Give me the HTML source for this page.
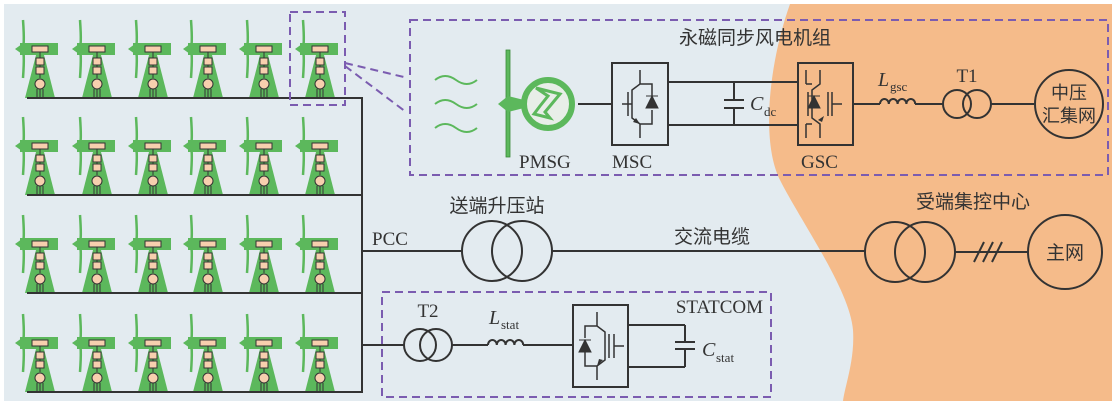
<!DOCTYPE html>
<html><head><meta charset="utf-8"><style>
html,body{margin:0;padding:0;background:#fff;}
svg{display:block;}
text{font-family:"Liberation Serif","Noto Serif CJK SC",serif;fill:#333;}
.cn{font-family:"Liberation Sans","Noto Sans CJK SC",sans-serif;}
</style></head><body>
<svg width="1116" height="405" viewBox="0 0 1116 405" xmlns="http://www.w3.org/2000/svg">
<defs>
<g id="tb">
  <path d="M-17,-78 Q-15,-50 -18,-49 Q-15,-48 -17,-20" stroke="#5cb85c" stroke-width="2.5" fill="none"/>
  <path d="M-25,-49 L-18,-54 L-18,-44 Z" fill="#5cb85c"/>
  <rect x="-20" y="-55" width="38" height="12" fill="#5cb85c"/>
  <path d="M-4,-43 L4,-43 L15,0 L-15,0 Z" fill="#5cb85c"/>
  <rect x="-8" y="-52" width="16" height="6" fill="#f7cfae" stroke="#333" stroke-width="1"/>
  <rect x="-4" y="-40" width="8" height="7" fill="#f7cfae" stroke="#333" stroke-width="1"/>
  <rect x="-4" y="-31" width="8" height="7" fill="#f7cfae" stroke="#333" stroke-width="1"/>
  <line x1="0" y1="-46" x2="0" y2="-40" stroke="#333"/>
  <line x1="0" y1="-33" x2="0" y2="-31" stroke="#333"/>
  <line x1="0" y1="-24" x2="0" y2="-20" stroke="#333"/>
  <circle cx="0" cy="-14" r="5" fill="#f7cfae" stroke="#333"/>
  <line x1="-3" y1="-9" x2="-3" y2="0" stroke="#333"/><line x1="0" y1="-9" x2="0" y2="0" stroke="#333"/><line x1="3" y1="-9" x2="3" y2="0" stroke="#333"/>
</g>
<g id="tr6">
  <use href="#tb" x="40"/><use href="#tb" x="97"/><use href="#tb" x="153"/>
  <use href="#tb" x="208"/><use href="#tb" x="264"/><use href="#tb" x="320"/>
  <line x1="27" y1="0" x2="362" y2="0" stroke="#333" stroke-width="2"/>
</g>
</defs>
<rect x="4" y="4" width="1108" height="397" fill="#e3ebf0"/>
<path d="M790,4 C770,60 760,140 780,180 C800,220 850,290 853,330 C855,360 845,385 843,401 L1112,401 L1112,4 Z" fill="#f5bb8a"/>

<use href="#tr6" y="98"/><use href="#tr6" y="195"/><use href="#tr6" y="293"/><use href="#tr6" y="392"/>
<line x1="362" y1="97" x2="362" y2="393" stroke="#333" stroke-width="2"/>

<g fill="none" stroke="#7b5cb0" stroke-width="2" stroke-dasharray="8,5">
<rect x="290" y="12" width="55" height="93"/>
<rect x="410" y="20" width="698" height="155"/>
<rect x="382" y="292" width="389" height="105"/>
</g>
<line x1="345" y1="63" x2="408" y2="78" stroke="#7b5cb0" stroke-width="2" stroke-dasharray="8,5"/>
<line x1="345" y1="66" x2="406" y2="112" stroke="#7b5cb0" stroke-width="2" stroke-dasharray="8,5"/>

<text x="755" y="44" font-size="19" text-anchor="middle" class="cn">永磁同步风电机组</text>
<g stroke="#5cb85c" stroke-width="2" fill="none">
<path d="M435,80 q10,-8 21,0 t21,0"/><path d="M435,104 q10,-8 21,0 t21,0"/><path d="M435,128 q10,-8 21,0 t21,0"/>
</g>
<rect x="506" y="50" width="4" height="107" fill="#5cb85c" stroke="#3a8a3a" stroke-width="0.8"/>
<path d="M498,104 L508,96 L524,100 L524,108 L508,112 Z" fill="#5cb85c"/>
<circle cx="548" cy="104" r="24" fill="#e8eee8" stroke="#5cb85c" stroke-width="6"/>
<path d="M536,88 L560,94 L555,100 L545,112 L550,118 L534,114 L540,106 L548,96 Z" fill="none" stroke="#5cb85c" stroke-width="3"/>
<g stroke="#333" stroke-width="2" fill="none">
<line x1="578" y1="104" x2="612" y2="104"/>
<rect x="612" y="63" width="56" height="82"/>
<line x1="668" y1="82" x2="798" y2="82"/><line x1="668" y1="125" x2="798" y2="125"/>
<line x1="734" y1="82" x2="734" y2="100"/><line x1="734" y1="108" x2="734" y2="125"/>
<line x1="724" y1="100" x2="744" y2="100"/><line x1="724" y1="108" x2="744" y2="108"/>
<rect x="798" y="63" width="55" height="82"/>
<line x1="853" y1="104" x2="880" y2="104"/>
<path d="M880,104 a4.4,5 0 0 1 8.8,0 a4.4,5 0 0 1 8.8,0 a4.4,5 0 0 1 8.8,0 a4.4,5 0 0 1 8.8,0"/>
<line x1="915" y1="104" x2="943" y2="104"/>
<circle cx="957" cy="104" r="14"/><circle cx="977" cy="104" r="14"/>
<line x1="991" y1="104" x2="1034" y2="104"/>
<circle cx="1069" cy="104" r="34"/>
</g>
<g stroke="#333" stroke-width="1.5" fill="none">
<path d="M640,70 V84 L632,90 V118 L640,124 V138 M628,92 V116 M632,104 H622 M640,84 H652 V96 M640,124 H652 V110"/>
<path d="M806,70 V84 M806,124 V138 M820,70 V84 L812,90 V118 L820,124 V138 M808,92 V116 M806,84 H812 M806,124 H812"/>
<path d="M828,92 V116 M832,92 V116 M832,104 H842"/>
</g>
<path d="M646,108 L658,108 L652,96 Z M646,96 H658" fill="#333" stroke="#333"/>
<path d="M636,118 L640,124 L633,122 Z" fill="#333"/>
<path d="M808,108 L820,108 L814,96 Z M808,96 H820" fill="#333" stroke="#333"/>
<path d="M818,120 L824,116 L822,122 Z" fill="#333"/>
<text x="612" y="168" font-size="19">MSC</text>
<text x="519" y="168" font-size="19">PMSG</text>
<text x="801" y="168" font-size="19">GSC</text>
<text x="750" y="110" font-size="20" font-style="italic">C</text><text x="764" y="116" font-size="13">dc</text>
<text x="878" y="86" font-size="20" font-style="italic">L</text><text x="890" y="91" font-size="13">gsc</text>
<text x="967" y="82" font-size="19" text-anchor="middle">T1</text>
<text x="1069" y="99" font-size="18" text-anchor="middle" class="cn">中压</text>
<text x="1069" y="122" font-size="18" text-anchor="middle" class="cn">汇集网</text>

<g stroke="#333" stroke-width="2" fill="none">
<line x1="362" y1="251" x2="462" y2="251"/>
<circle cx="492" cy="251" r="30"/><circle cx="522" cy="251" r="30"/>
<line x1="552" y1="251" x2="865" y2="251"/>
<circle cx="895" cy="252" r="30"/><circle cx="925" cy="252" r="30"/>
<line x1="955" y1="252" x2="1028" y2="252"/>
<line x1="974" y1="262" x2="984" y2="242"/><line x1="983" y1="262" x2="993" y2="242"/><line x1="992" y1="262" x2="1002" y2="242"/>
<circle cx="1065" cy="252" r="37"/>
</g>
<text x="372" y="245" font-size="19">PCC</text>
<text x="497" y="212" font-size="19" text-anchor="middle" class="cn">送端升压站</text>
<text x="712" y="243" font-size="19" text-anchor="middle" class="cn">交流电缆</text>
<text x="973" y="208" font-size="19" text-anchor="middle" class="cn">受端集控中心</text>
<text x="1065" y="259" font-size="19" text-anchor="middle" class="cn">主网</text>

<g stroke="#333" stroke-width="2" fill="none">
<line x1="362" y1="345" x2="404" y2="345"/>
<circle cx="420" cy="345" r="16"/><circle cx="436" cy="345" r="16"/>
<line x1="452" y1="345" x2="488" y2="345"/>
<path d="M488,345 a4.4,5 0 0 1 8.8,0 a4.4,5 0 0 1 8.8,0 a4.4,5 0 0 1 8.8,0 a4.4,5 0 0 1 8.8,0"/>
<line x1="523" y1="345" x2="573" y2="345"/>
<rect x="573" y="305" width="55" height="82"/>
<line x1="628" y1="325" x2="685" y2="325"/><line x1="628" y1="367" x2="685" y2="367"/>
<line x1="685" y1="325" x2="685" y2="342"/><line x1="685" y1="349" x2="685" y2="367"/>
<line x1="675" y1="342" x2="695" y2="342"/><line x1="675" y1="349" x2="695" y2="349"/>
</g>
<g stroke="#333" stroke-width="1.5" fill="none">
<path d="M597,312 V326 L605,332 V360 L597,366 V380 M609,334 V358 M614,334 V358 M614,346 H624 M597,326 H585 V338 M597,366 H585 V352"/>
</g>
<path d="M579,352 L591,352 L585,340 Z M579,340 H591" fill="#333" stroke="#333"/>
<path d="M603,360 L597,366 L599,359 Z" fill="#333"/>
<text x="428" y="317" font-size="19" text-anchor="middle">T2</text>
<text x="489" y="324" font-size="20" font-style="italic">L</text><text x="501" y="329" font-size="13">stat</text>
<text x="763" y="313" font-size="19" text-anchor="end">STATCOM</text>
<text x="702" y="356" font-size="20" font-style="italic">C</text><text x="716" y="362" font-size="13">stat</text>
</svg>
</body></html>
